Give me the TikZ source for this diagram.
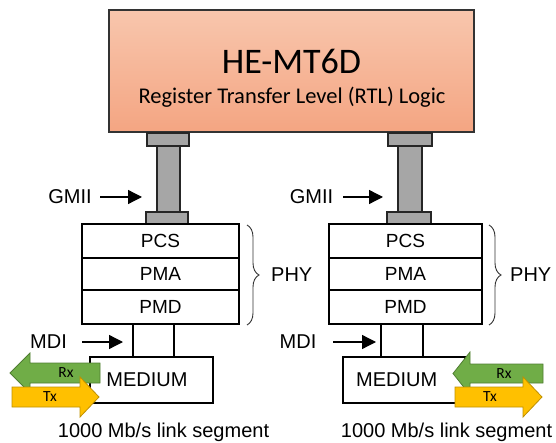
\documentclass[tikz,border=0pt]{standalone}
\usepackage{fontspec}
\setmainfont{Liberation Sans}
\newfontfamily\calibri{Carlito}
\usetikzlibrary{arrows.meta,decorations.pathreplacing}

\definecolor{salmonTop}{HTML}{F8C6AD}
\definecolor{salmonBot}{HTML}{F4A582}
\definecolor{busgray}{HTML}{A6A6A6}
\definecolor{rxgreen}{HTML}{70AD47}
\definecolor{rxedge}{HTML}{507E32}
\definecolor{txyellow}{HTML}{FFC000}
\definecolor{txedge}{HTML}{BF9000}

\tikzset{
  blk/.style={draw=black, line width=1.4pt, inner sep=0pt, outer sep=0pt, anchor=north west},
  layer/.style={blk, font=\fontsize{19}{21}\selectfont},
  bus/.style={blk, fill=busgray, draw=black!85, line width=1.3pt},
  lbl/.style={inner sep=0pt, font=\fontsize{20}{22}\selectfont},
  ptr/.style={line width=1.3pt, -{Triangle[length=14pt,width=14pt]}},
  rxarrow/.style={fill=rxgreen, draw=rxedge, line width=0.8pt},
  txarrow/.style={fill=txyellow, draw=txedge, line width=0.8pt},
  dirtxt/.style={inner sep=0pt, font=\calibri\fontsize{15.5}{17}\selectfont},
  phybrace/.style={decorate, decoration={brace, amplitude=12pt}, line width=0.9pt, draw=black!80},
}

\begin{document}
\begin{tikzpicture}[x=1pt, y=-1pt]
\useasboundingbox (0,0) rectangle (556,443);

% RTL logic block
\node[blk, top color=salmonTop, bottom color=salmonBot, draw=black!80,
      minimum width=365pt, minimum height=122pt] (rtl) at (109,10) {};
\node[inner sep=0pt, font=\calibri\fontsize{36}{40}\selectfont] (title) at (291.5,61) {HE-MT6D};
\node[inner sep=0pt, font=\calibri\fontsize{22.5}{25}\selectfont] (sub) at (292,97) {Register Transfer Level (RTL) Logic};

% ---- left port ----
\node[bus, minimum width=42pt, minimum height=13pt] (capTL) at (147,133) {};
\node[bus, minimum width=23pt, minimum height=66pt] (pilL) at (157,146) {};
\node[bus, minimum width=42pt, minimum height=12pt] (capBL) at (146,212) {};

\node[layer, minimum width=157pt, minimum height=34pt] (pcsL) at (82,224) {PCS};
\node[layer, minimum width=157pt, minimum height=32pt] (pmaL) at (82,258) {PMA};
\node[layer, minimum width=157pt, minimum height=34pt] (pmdL) at (82,290) {PMD};

\coordinate (mdiLa) at (133,324);
\coordinate (mdiLb) at (174,324);
\node[layer, minimum width=123pt, minimum height=46pt] (medL) at (90,357) {};
\node[lbl] (medLtxt) at (147,380) {MEDIUM};
\draw[line width=1.4pt] (mdiLa) -- (mdiLa |- medL.north);
\draw[line width=1.4pt] (mdiLb) -- (mdiLb |- medL.north);

\draw[phybrace] (247,225) -- (247,325);
\node[lbl, anchor=west] (phyL) at (271,275) {PHY};

\node[lbl] (gmiiL) at (70,197) {GMII};
\coordinate (gmiiLa) at (100,197);
\coordinate (gmiiLb) at (142,197);
\draw[ptr] (gmiiLa) -- (gmiiLb);
\node[lbl] (mdiL) at (48.5,342) {MDI};
\coordinate (mdiLp) at (82,342);
\coordinate (mdiLq) at (123,342);
\draw[ptr] (mdiLp) -- (mdiLq);

% Rx / Tx on the left
\draw[rxarrow] (10,373) -- (30,353) -- (30,363) -- (100,363) -- (100,383)
               -- (30,383) -- (30,393) -- cycle;
\node[dirtxt] (rxL) at (66,373) {Rx};
\draw[txarrow] (99,397) -- (80,377) -- (80,387) -- (12,387) -- (12,407)
               -- (80,407) -- (80,417) -- cycle;
\node[dirtxt] (txL) at (50,397) {Tx};

\node[lbl] (segL) at (163.5,432) {1000 Mb/s link segment};

% ---- right port ----
\node[bus, minimum width=44pt, minimum height=13pt] (capTR) at (388,133) {};
\node[bus, minimum width=24pt, minimum height=66pt] (pilR) at (398,146) {};
\node[bus, minimum width=44pt, minimum height=12pt] (capBR) at (387,212) {};

\node[layer, minimum width=153pt, minimum height=34pt] (pcsR) at (329,224) {PCS};
\node[layer, minimum width=153pt, minimum height=32pt] (pmaR) at (329,258) {PMA};
\node[layer, minimum width=153pt, minimum height=34pt] (pmdR) at (329,290) {PMD};

\coordinate (mdiRa) at (381,324);
\coordinate (mdiRb) at (423,324);
\node[layer, minimum width=122pt, minimum height=46pt] (medR) at (343,357) {};
\node[lbl, anchor=west] (medRtxt) at (356,380) {MEDIUM};
\draw[line width=1.4pt] (mdiRa) -- (mdiRa |- medR.north);
\draw[line width=1.4pt] (mdiRb) -- (mdiRb |- medR.north);

\draw[phybrace] (489,225) -- (489,325);
\node[lbl, anchor=west] (phyR) at (510,275) {PHY};

\node[lbl] (gmiiR) at (311.5,197) {GMII};
\coordinate (gmiiRa) at (343,197);
\coordinate (gmiiRb) at (383,197);
\draw[ptr] (gmiiRa) -- (gmiiRb);
\node[lbl] (mdiR) at (298,342) {MDI};
\coordinate (mdiRp) at (333,342);
\coordinate (mdiRq) at (376,342);
\draw[ptr] (mdiRp) -- (mdiRq);

% Rx / Tx on the right
\draw[rxarrow] (453,373.5) -- (470,352) -- (470,364) -- (543,364) -- (543,383)
               -- (470,383) -- (470,395) -- cycle;
\node[dirtxt] (rxR) at (504,374) {Rx};
\draw[txarrow] (542,397) -- (523,377) -- (523,387) -- (455,387) -- (455,407)
               -- (523,407) -- (523,417) -- cycle;
\node[dirtxt] (txR) at (490,397) {Tx};

\node[lbl] (segR) at (446.5,432) {1000 Mb/s link segment};
\end{tikzpicture}
\end{document}
